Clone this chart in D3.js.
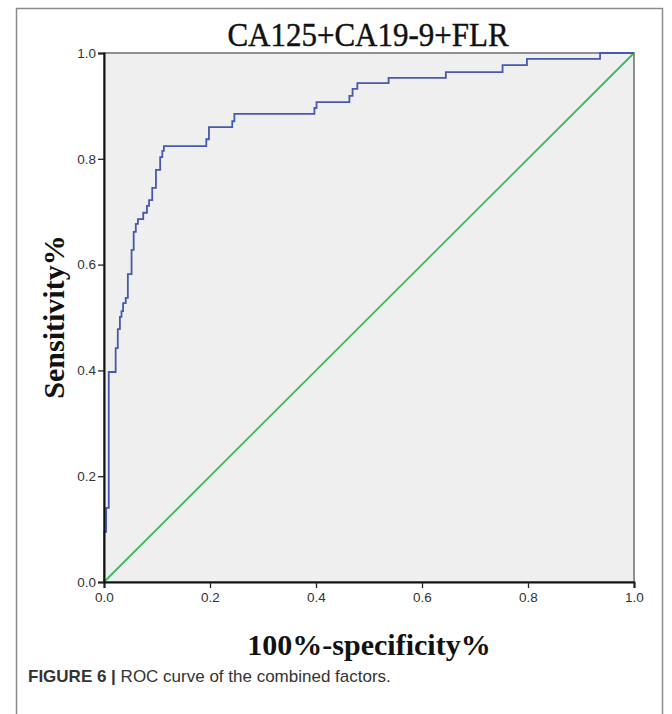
<!DOCTYPE html>
<html>
<head>
<meta charset="utf-8">
<script src="https://cdn.jsdelivr.net/npm/d3@7"></script>
<style>
body { margin: 0; background: #fff; }
</style>
</head>
<body>
<script>
// Width and Height of the page
var W = 672, H = 714;

// ROC curve vertices (step after)
var fpr = [0, 0, 0.004, 0.009, 0.022, 0.026, 0.030, 0.033, 0.036, 0.041, 0.045, 0.052, 0.056,
	0.060, 0.064, 0.074, 0.081, 0.085, 0.091, 0.098, 0.106, 0.110, 0.113, 0.193, 0.198, 0.242,
	0.246, 0.397, 0.401, 0.463, 0.469, 0.478, 0.537, 0.645, 0.752, 0.798, 0.936, 1.0];
var tpr = [0, 0.095, 0.140, 0.397, 0.442, 0.478, 0.501, 0.512, 0.527, 0.537, 0.582, 0.628, 0.662,
	0.677, 0.686, 0.698, 0.711, 0.722, 0.745, 0.779, 0.803, 0.815, 0.824, 0.837, 0.860, 0.871,
	0.885, 0.896, 0.907, 0.919, 0.932, 0.943, 0.953, 0.964, 0.977, 0.989, 1.0, 1.0];
var refLine = [0, 1];
var ticks = [0, 0.2, 0.4, 0.6, 0.8, 1.0];

var title = "CA125+CA19-9+FLR";
var xLabel = "100%-specificity%";
var yLabel = "Sensitivity%";

var svg = d3.select("body")
	.append("svg")
	.attr("width", W)
	.attr("height", H);

// outer frame of the figure
svg.append("rect")
	.attr("x", 16.5).attr("y", 8.5)
	.attr("width", 646).attr("height", 720)
	.style("fill", "none")
	.style("stroke", "#8a8a8a")
	.style("stroke-width", 1.5);

var pL = 104, pT = 53, pR = 634, pB = 582;

var x = d3.scaleLinear().domain([0, 1]).range([pL, pR]);
var y = d3.scaleLinear().domain([0, 1]).range([pB, pT]);

// plot background with grey border
svg.append("rect")
	.attr("x", pL).attr("y", pT)
	.attr("width", pR - pL).attr("height", pB - pT)
	.style("fill", "#efefef")
	.style("stroke", "#6e6e6e")
	.style("stroke-width", 1.5);

// diagonal reference line
svg.append("line")
	.attr("x1", x(refLine[0])).attr("y1", y(refLine[0]))
	.attr("x2", x(refLine[1])).attr("y2", y(refLine[1]))
	.style("stroke", "#3dba55")
	.style("stroke-width", 1.8);

// the ROC curve
var pts = fpr.map(function(d, i){ return [d, tpr[i]]; });
var line = d3.line()
	.x(function(d){ return x(d[0]); })
	.y(function(d){ return y(d[1]); })
	.curve(d3.curveStepAfter);

svg.append("path")
	.datum(pts)
	.attr("d", line)
	.style("fill", "none")
	.style("stroke", "#4658b0")
	.style("stroke-width", 1.8);

// axes
var fmt = d3.format(".1f");
var xAxis = svg.append("g")
	.attr("transform", "translate(0," + pB + ")")
	.call(d3.axisBottom(x).tickValues(ticks).tickFormat(fmt).tickSize(6).tickPadding(4));
var yAxis = svg.append("g")
	.attr("transform", "translate(" + pL + ",0)")
	.call(d3.axisLeft(y).tickValues(ticks).tickFormat(fmt).tickSize(6).tickPadding(2));

[xAxis, yAxis].forEach(function(a){
	a.select(".domain").style("stroke", "#111").style("stroke-width", 2);
	a.selectAll(".tick line").style("stroke", "#222").style("stroke-width", 1.3);
	a.selectAll("text")
		.style("font-family", "'Liberation Sans', Arial, sans-serif")
		.style("font-size", "13.5px")
		.style("fill", "#333");
});

// title (a bit taller than wide, like the original) and axis titles
svg.append("text")
	.attr("transform", "translate(368,46) scale(1,1.12)")
	.attr("text-anchor", "middle")
	.style("font-family", "'Liberation Serif', 'Times New Roman', serif")
	.style("font-size", "31px")
	.style("fill", "#111")
	.style("stroke", "#111")
	.style("stroke-width", 0.4)
	.text(title);

svg.append("text")
	.attr("x", 369).attr("y", 655)
	.attr("text-anchor", "middle")
	.style("font-family", "'Liberation Serif', 'Times New Roman', serif")
	.style("font-size", "30px")
	.style("font-weight", "bold")
	.style("fill", "#111")
	.text(xLabel);

svg.append("text")
	.attr("transform", "translate(64," + 317 + ") rotate(-90)")
	.attr("text-anchor", "middle")
	.style("font-family", "'Liberation Serif', 'Times New Roman', serif")
	.style("font-size", "30px")
	.style("font-weight", "bold")
	.style("fill", "#111")
	.text(yLabel);

// caption
var cap = svg.append("text")
	.attr("x", 28).attr("y", 682)
	.style("font-family", "'Liberation Sans', Arial, sans-serif")
	.style("font-size", "17px")
	.style("fill", "#333");
cap.append("tspan").style("font-weight", "bold").text("FIGURE 6 | ");
cap.append("tspan").text("ROC curve of the combined factors.");
</script>
</body>
</html>
